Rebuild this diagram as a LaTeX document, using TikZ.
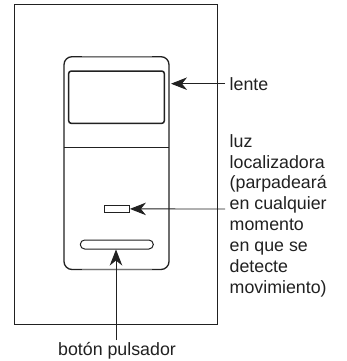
\documentclass[tikz,border=0pt]{standalone}
\usepackage{fontspec}
\setmainfont{Liberation Sans}
\usetikzlibrary{arrows.meta}
\definecolor{inkc}{gray}{0.13}
\tikzset{
  lab/.style={inner sep=0pt,text=inkc,font=\fontsize{17.8}{20.9}\selectfont},
  frameline/.style={draw=inkc,line width=1pt},
  bodyline/.style={draw=inkc,line width=1.3pt},
  lead/.style={draw=inkc,line width=0.9pt,-{Stealth[length=16pt,width=12.5pt,inset=5pt]}}
}
\begin{document}
\begin{tikzpicture}[x=1pt,y=-1pt]
\useasboundingbox (0,0) rectangle (346,361);
\fill[white] (0,0) rectangle (346,361);
\draw[frameline] (14.5,4.5) rectangle (217.5,324);
\draw[bodyline,rounded corners=8pt] (64,56.7) rectangle (169,269.5);
\draw[white,line width=1.5pt] (82,56.7) -- (152,56.7) (82,269.5) -- (152,269.5);
\draw[black!55,line width=1pt] (82,56.7) -- (152,56.7) (82,269.5) -- (152,269.5);
\draw[bodyline] (64,147.7) -- (169,147.7);
\node[bodyline,draw,line width=1.5pt,rounded corners=2.5pt,minimum width=95.6pt,minimum height=52.3pt,inner sep=0pt] (lens) at (116.5,97.2) {};
\node[draw=inkc,line width=1.1pt,minimum width=25.3pt,minimum height=6.3pt,inner sep=0pt] (led) at (116.7,208.9) {};
\node[draw=inkc,line width=1pt,rounded corners=4.4pt,minimum width=73pt,minimum height=9pt,inner sep=0pt] (btn) at (116.8,244.5) {};
\node[lab,anchor=base west] (tlente) at (229.5,90) {lente};
\node[lab,anchor=north west,align=left] (tluz) at (229.5,134) {luz\\localizadora\\(parpadeará\\en cualquier\\momento\\en que se\\detecte\\movimiento)};
\node[lab,anchor=base] (tbtn) at (117,355) {botón pulsador};
\coordinate (a) at (225,83.7);
\coordinate (b) at (225,209);
\coordinate (c) at (116,340);
\coordinate (at) at (171,83.7);
\draw[lead] (a) -- (at);
\draw[lead] (b) -- (led.east);
\draw[lead] (c) -- (btn.south -| c);
\end{tikzpicture}
\end{document}
